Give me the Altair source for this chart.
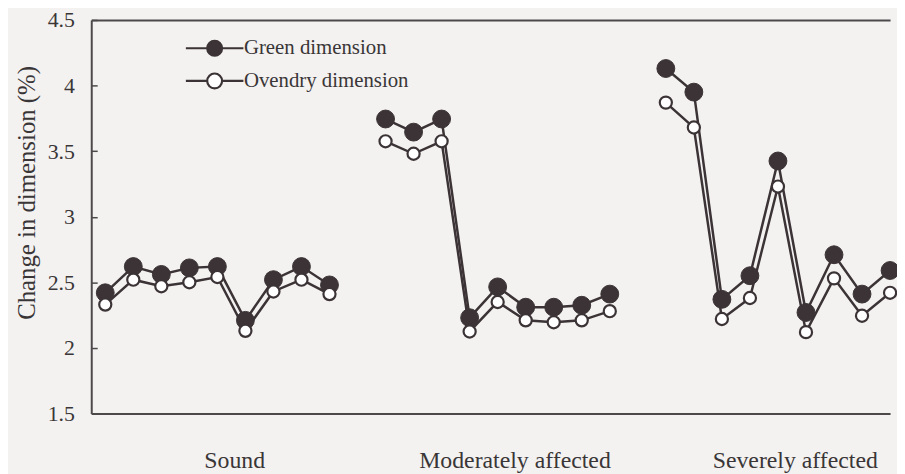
import altair as alt
import pandas as pd

# ---- data ----
groups = ["Sound", "Moderately affected", "Severely affected"]
series = ["Green dimension", "Ovendry dimension"]

green_sound = [2.42, 2.62, 2.56, 2.61, 2.62, 2.21, 2.52, 2.62, 2.48]
oven_sound = [2.33, 2.52, 2.47, 2.50, 2.54, 2.13, 2.43, 2.52, 2.41]
green_moderate = [3.745, 3.645, 3.745, 2.23, 2.465, 2.31, 2.31, 2.325, 2.41]
oven_moderate = [3.575, 3.48, 3.575, 2.125, 2.35, 2.21, 2.195, 2.21, 2.28]
green_severe = [4.13, 3.95, 2.37, 2.55, 3.425, 2.27, 2.71, 2.41, 2.59]
oven_severe = [3.87, 3.68, 2.22, 2.38, 3.23, 2.12, 2.53, 2.245, 2.42]

y_ticks = [1.5, 2, 2.5, 3, 3.5, 4, 4.5]

values = {
    ("Green dimension", 0): green_sound,
    ("Green dimension", 1): green_moderate,
    ("Green dimension", 2): green_severe,
    ("Ovendry dimension", 0): oven_sound,
    ("Ovendry dimension", 1): oven_moderate,
    ("Ovendry dimension", 2): oven_severe,
}

rows = []
for s in series:
    for g in range(3):
        for i, v in enumerate(values[(s, g)]):
            rows.append({"series": s, "group": groups[g], "gi": g,
                         "pos": g * 10 + i, "value": v,
                         "line": f"{s}-{g}"})
df = pd.DataFrame(rows)

DARK = "#3b3335"
FRAME = "#4d484a"
TEXT = "#3a3637"
FONT = "Liberation Serif"

label_pos = [g * 10 + 4.6 for g in range(3)]
label_expr = "[" + ",".join(f"'{g}'" for g in groups) + "][round((datum.value-4.6)/10)]"

xscale = alt.Scale(domain=[-0.5, 28], nice=False, zero=False)
yscale = alt.Scale(domain=[1.5, 4.5], nice=False, zero=False)

# legend symbol: line - circle - line
r = 1.0
L = 3.87
legend_path = (f"M{-L},0L{-r},0M{r},0L{L},0"
               f"M{-r},0A{r},{r} 0 1,1 {r},0A{r},{r} 0 1,1 {-r},0Z")

fill_scale = alt.Scale(domain=series, range=[DARK, "#ffffff"])
legend = alt.Legend(title=None, orient="none", legendX=114, legendY=18,
                    symbolType=legend_path, symbolSize=225,
                    symbolStrokeColor=DARK, symbolStrokeWidth=2.2,
                    labelFont=FONT, labelFontSize=21, labelColor=TEXT,
                    labelOffset=19, rowPadding=8, padding=0, labelLimit=0)

lines = alt.Chart(df).mark_line(color=DARK, strokeWidth=2.5).encode(
    x=alt.X("pos:Q", scale=xscale,
            axis=alt.Axis(orient="top", title=None, labels=False, ticks=False,
                          grid=False, domain=True, domainColor=FRAME,
                          domainWidth=2)),
    y=alt.Y("value:Q", scale=yscale,
            axis=alt.Axis(orient="left", title=None, labels=False, ticks=True,
                          tickSize=6, tickWidth=1.5, tickColor=FRAME,
                          domain=False, grid=False, offset=-6,
                          values=y_ticks)),
    detail="line:N",
    order="pos:Q",
)

x_bottom = alt.X("pos:Q", scale=xscale,
                 axis=alt.Axis(orient="bottom", title=None, values=label_pos,
                               labelExpr=label_expr, ticks=False, grid=False,
                               domain=True, domainColor=FRAME, domainWidth=2,
                               labelPadding=36, labelFontSize=24,
                               labelFont=FONT, labelColor=TEXT,
                               labelAlign="center", labelLimit=0))
y_left = alt.Y("value:Q", scale=yscale,
               axis=alt.Axis(orient="left", title="Change in dimension  (%)",
                             values=y_ticks, format="~g", ticks=False,
                             grid=False, domain=True, domainColor=FRAME,
                             domainWidth=2, labelPadding=17, labelFontSize=22,
                             labelFont=FONT, labelColor=TEXT,
                             titleFont=FONT, titleFontSize=25,
                             titleFontWeight="normal", titleColor=TEXT,
                             titleX=-65, titleY=174, titleAngle=270,
                             titleAlign="center", titleBaseline="middle"))

green_pts = alt.Chart(df).transform_filter(
    alt.datum.series == series[0]
).mark_point(filled=True, opacity=1, stroke=DARK, strokeWidth=1,
             size=325).encode(
    x=x_bottom, y=y_left,
    fill=alt.Fill("series:N", scale=fill_scale, legend=legend),
)

oven_pts = alt.Chart(df).transform_filter(
    alt.datum.series == series[1]
).mark_point(filled=True, opacity=1, stroke=DARK, strokeWidth=2.2,
             size=150).encode(
    x=alt.X("pos:Q", scale=xscale, axis=None),
    y=alt.Y("value:Q", scale=yscale, axis=None),
    fill=alt.Fill("series:N", scale=fill_scale, legend=legend),
)

chart = alt.layer(lines, green_pts, oven_pts).resolve_axis(
    x="independent", y="independent"
).properties(
    width=806, height=397,
    autosize=alt.AutoSizeParams(type="none"),
    padding={"left": 84, "top": 10, "right": 7, "bottom": 59},
    background="#f3f2f1",
).configure_view(stroke=None)

chart.save("out.html", embed_options={"renderer": "svg", "actions": False})
